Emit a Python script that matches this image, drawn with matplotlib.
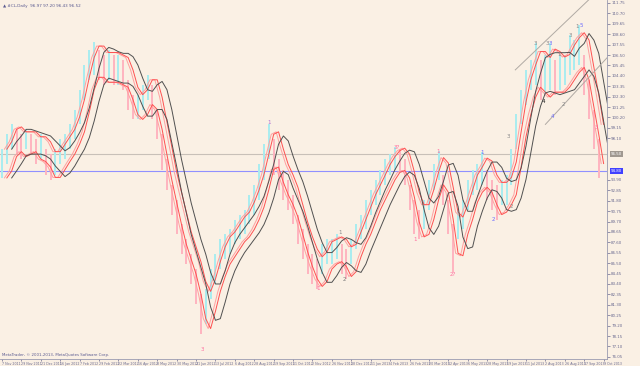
import numpy as np
import pandas as pd
import matplotlib.pyplot as plt

# bar highs / lows (4-day bars)
highs = [97.0, 98.5, 99.5, 99.0, 98.5, 99.0, 98.5, 98.0, 98.5, 97.0,
         96.5, 97.0, 98.0, 98.5, 99.5, 101.0, 103.0, 105.5, 107.0, 107.8,
         107.0, 106.5, 107.0, 106.5, 106.5, 106.0, 104.0, 102.5, 102.5, 103.5,
         104.5, 103.5, 101.0, 98.5, 96.0, 93.4, 91.9, 89.4, 87.9, 86.4,
         84.9, 82.4, 82.9, 84.9, 86.4, 87.9, 88.4, 88.9, 89.9, 90.4,
         90.9, 92.4, 93.4, 95.5, 97.5, 99.5, 98.0, 96.0, 94.9, 93.9,
         92.4, 90.4, 88.9, 87.4, 86.4, 85.9, 87.4, 87.9, 87.9, 88.4,
         87.4, 86.9, 87.9, 89.4, 90.4, 91.9, 92.9, 93.9, 94.9, 96.0,
         96.5, 97.2, 97.0, 96.0, 93.4, 91.9, 90.9, 91.9, 93.9, 95.5,
         96.8, 94.4, 91.9, 89.4, 90.9, 91.9, 93.9, 94.9, 95.5, 96.7,
         94.9, 93.9, 93.4, 93.9, 94.4, 97.0, 100.5, 103.0, 105.0, 106.0,
         107.7, 106.0, 106.5, 107.7, 106.0, 106.6, 106.5, 108.5, 108.0, 109.5,
         106.5, 104.0, 101.0, 98.0]
lows = [94.1, 95.5, 97.0, 96.5, 96.0, 97.0, 96.5, 95.5, 96.0, 94.4,
        93.9, 94.4, 95.5, 96.0, 97.0, 98.0, 99.5, 102.0, 104.0, 104.5,
        104.0, 103.5, 104.0, 103.5, 103.5, 103.0, 101.0, 100.0, 100.0, 101.0,
        102.0, 100.0, 98.0, 94.9, 92.9, 90.4, 88.4, 86.4, 85.4, 83.4,
        81.4, 78.4, 79.4, 81.9, 83.4, 84.9, 85.9, 86.4, 87.4, 87.9,
        88.4, 89.4, 90.4, 91.9, 93.9, 96.0, 94.4, 92.9, 91.9, 90.9,
        89.4, 87.4, 85.9, 84.4, 83.4, 82.9, 84.4, 85.4, 85.4, 85.9,
        84.4, 83.9, 85.4, 86.9, 87.9, 88.9, 90.4, 91.4, 92.4, 93.4,
        94.4, 94.9, 94.8, 93.4, 90.9, 88.4, 87.9, 88.9, 90.9, 92.9,
        93.9, 91.4, 88.4, 84.6, 87.9, 88.9, 90.9, 92.4, 92.9, 93.4,
        91.9, 90.9, 89.9, 91.4, 91.4, 93.4, 97.0, 99.5, 101.5, 103.0,
        103.5, 102.0, 102.5, 103.0, 102.5, 103.0, 103.5, 104.5, 105.0, 105.5,
        102.5, 100.0, 97.0, 94.1]

date_labels = ['7 Nov 2011', '29 Nov 2011', '21 Dec 2011', '16 Jan 2012', '7 Feb 2012',
               '29 Feb 2012', '22 Mar 2012', '16 Apr 2012', '8 May 2012', '30 May 2012',
               '21 Jun 2012', '13 Jul 2012', '6 Aug 2012', '28 Aug 2012', '19 Sep 2012',
               '11 Oct 2012', '2 Nov 2012', '26 Nov 2012', '18 Dec 2012', '11 Jan 2013',
               '4 Feb 2013', '26 Feb 2013', '20 Mar 2013', '12 Apr 2013', '6 May 2013',
               '28 May 2013', '19 Jun 2013', '11 Jul 2013', '2 Aug 2013', '26 Aug 2013',
               '17 Sep 2013', '9 Oct 2013']
bars_per_label = 4

price_ticks = [111.75 - 1.05 * k for k in range(35)]

bid_level = 96.5
blue_level = 94.8

# wave count marks
mark_bars = [55.1, 65.2, 69.7, 70.5, 81.4, 85.2, 89.9, 93.0, 99.0, 101.2,
             104.9, 104.3, 111.5, 113.4, 115.7, 109.9, 112.4, 113.1, 114.8, 117.1,
             118.6, 119.3, 122.5, 41.2]
mark_prices = [99.7, 82.9, 88.6, 83.9, 97.2, 87.9, 96.8, 84.4, 96.7, 89.9,
               91.2, 98.3, 101.8, 100.3, 101.5, 107.7, 107.7, 107.7, 106.6, 108.5,
               109.4, 109.5, 99.2, 76.8]
mark_texts = ['1', '1', '1', '2', '3?', '1', '1', '2?', '1', '2',
              '2', '3', '4', '4', '2', '3', '3', '3', '1', '3',
              '1', '5', '3', '3']
mark_colors = ['#b070d0', '#ff6f9f', '#888888', '#777777', '#ff6f9f', '#ff6f9f', '#ff6f9f', '#ff6f9f', '#6a6aff', '#6a6aff',
               '#888888', '#888888', '#222222', '#6a6aff', '#888888', '#888888', '#888888', '#6a6aff', '#888888', '#888888',
               '#888888', '#6a6aff', '#ff6f9f', '#ff6f9f']

# channel trend lines (bar, price) endpoints
chan_upper = [(105.8, 105.0), (120.9, 112.05)]
chan_lower = [(112.0, 99.5), (125.8, 106.8)]

bg = '#faf0e4'
ymin, ymax = 75.83, 112.05
fig = plt.figure(figsize=(6.4, 3.66), dpi=100, facecolor=bg)
ax = fig.add_axes([0, 7 / 366, 607 / 640, 359 / 366], facecolor=bg)

hi = pd.Series(highs)
lo = pd.Series(lows)
x = np.arange(len(hi))
mid = (hi + lo) / 2
bar_colors = np.where(mid >= mid.shift(1).fillna(mid), '#a8ecf0', '#ffb4c0')

ax.vlines(x, lo, hi, colors=bar_colors, linewidth=1.4, zorder=2)

# shifted moving-average envelopes
for period, shift, color in [(2, 0.5, '#ffa0a0'), (2, 1.0, '#ff5050'), (3, 2.0, '#505050')]:
    for s in (hi, lo):
        ma = s.rolling(period, min_periods=1).mean()
        ax.plot(x + shift, ma, color=color, linewidth=0.7, zorder=3)

ax.axhline(bid_level, color='#c8c0b8', linewidth=0.8, zorder=1)
ax.axhline(blue_level, color='#9090ff', linewidth=0.8, zorder=1)

for seg in (chan_upper, chan_lower):
    ax.plot([seg[0][0], seg[1][0]], [seg[0][1], seg[1][1]], color='#b0aaa4', linewidth=0.7, zorder=4)

for bx, py, t, c in zip(mark_bars, mark_prices, mark_texts, mark_colors):
    ax.text(bx, py, t, color=c, fontsize=4, ha='center', va='center', zorder=5)

ax.set_xlim(-0.41, 124.7)
ax.set_ylim(ymin, ymax)

tick_col = '#6a6a90'
ax.yaxis.tick_right()
# price labels hidden behind the two highlighted level boxes
shown = [p for p in price_ticks if min(abs(p - bid_level), abs(p - blue_level)) > 0.6]
ax.set_yticks(shown)
ax.set_yticklabels([f'{p:.2f}' for p in shown])
ax.set_xticks([k * bars_per_label for k in range(len(date_labels))])
ax.set_xticklabels(date_labels, ha='left')
ax.tick_params(axis='y', labelsize=2.9, colors=tick_col, length=2, width=0.5, pad=1)
ax.tick_params(axis='x', labelsize=2.3, colors=tick_col, length=1.5, width=0.5, pad=0.6)

for side in ('top', 'left'):
    ax.spines[side].set_visible(False)
for side in ('right', 'bottom'):
    ax.spines[side].set_color('#9a9ab0')
    ax.spines[side].set_linewidth(0.6)

for level, col in [(bid_level, '#a09890'), (blue_level, '#4040ff')]:
    ax.text(1.006, (level - ymin) / (ymax - ymin), f'{level:.2f}', transform=ax.transAxes,
            fontsize=2.9, color='white', va='center', ha='left',
            bbox=dict(facecolor=col, edgecolor='none', pad=0.6))

ax.text(0.005, 0.99, '\u25b2 #CL,Daily  96.97 97.20 96.43 96.52', transform=ax.transAxes,
        fontsize=3.0, color='#5a5a90', va='top', ha='left')
ax.text(0.004, 0.006, 'MetaTrader, \u00a9 2001-2013, MetaQuotes Software Corp.', transform=ax.transAxes,
        fontsize=2.8, color='#5a5a90', va='bottom', ha='left')

plt.savefig('out.png', dpi=100, facecolor=bg)
